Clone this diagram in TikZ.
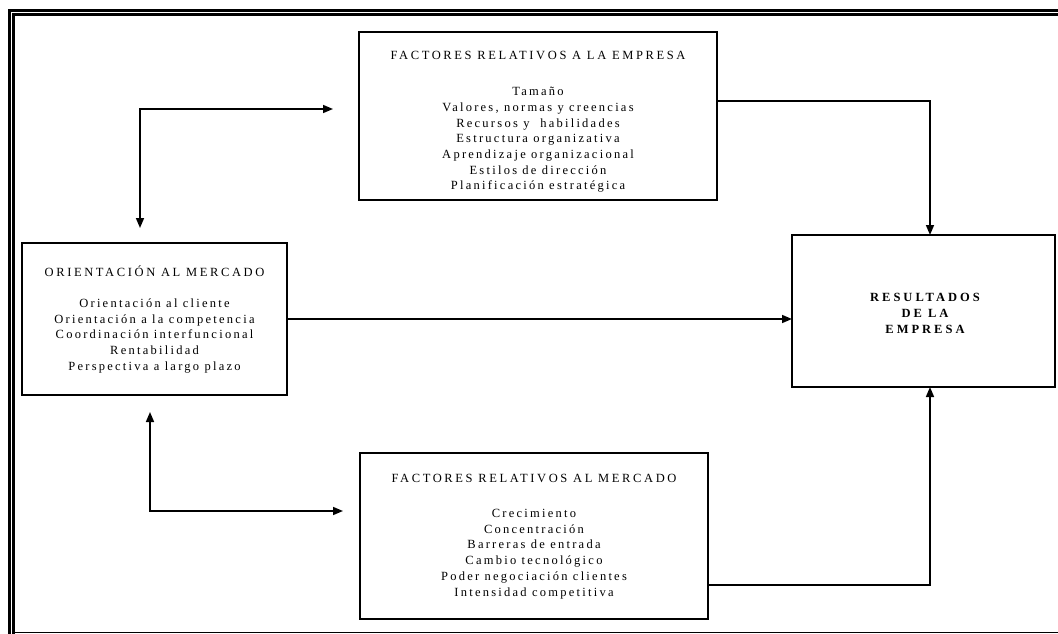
\documentclass[tikz,border=0pt]{standalone}
\usepackage{fontspec}
\setmainfont{Liberation Serif}
\newfontfamily\headfont[LetterSpace=21]{Liberation Serif}
\newfontfamily\itemfont[LetterSpace=18]{Liberation Serif}
\newfontfamily\resfont[LetterSpace=24]{Liberation Serif}
\usetikzlibrary{arrows.meta}

\begin{document}
\begin{tikzpicture}[x=1pt,y=-1pt,
  box/.style={draw, line width=1.6pt, inner sep=0pt, outer sep=0pt},
  head/.style={font=\headfont\fontsize{12.5}{15.7}\selectfont, inner sep=0pt},
  items/.style={font=\itemfont\fontsize{12.5}{15.7}\selectfont, align=center, inner sep=0pt},
  result/.style={font=\resfont\bfseries\fontsize{12.5}{16}\selectfont, align=center, inner sep=0pt},
  tip/.tip={Triangle[length=10pt,width=8pt]},
  conn/.style={line width=1.6pt, -tip},
  biconn/.style={line width=1.6pt, tip-tip},
  frameline/.style={line width=3pt, line join=miter},
]
% page and background
\fill[white] (0,0) rectangle (1058,634);
\useasboundingbox (0,0) rectangle (1058,634);

% double page frame (left and top), thin base line
\draw[frameline] (9.5,634) -- (9.5,10.5) -- (1058,10.5);
\draw[frameline] (13.5,634) -- (13.5,14.5) -- (1058,14.5);
\draw[line width=1pt] (15,632.8) -- (1058,632.8);

% boxes
\node[box, minimum width=358pt, minimum height=168pt] (empresa) at (538,116) {};
\node[box, minimum width=265pt, minimum height=152pt] (orient) at (154.5,319) {};
\node[box, minimum width=263pt, minimum height=152pt] (result) at (923.5,311) {};
\node[box, minimum width=348pt, minimum height=166pt] (mercado) at (534,536) {};

% texts
\node[head] (empresaT) at (538,55) {FACTORES RELATIVOS A LA EMPRESA};
\node[items] (empresaL) at (538,140) {Tamaño\\Valores, normas y creencias\\Recursos y\ \ habilidades\\Estructura organizativa\\Aprendizaje organizacional\\Estilos de dirección\\Planificación estratégica};

\node[head] (orientT) at (154.5,271) {ORIENTACIÓN AL MERCADO};
\node[items] (orientL) at (154.5,336) {Orientación al cliente\\Orientación a la competencia\\Coordinación interfuncional\\Rentabilidad\\Perspectiva a largo plazo};

\node[result] (resultT) at (925,313) {RESULTADOS\\DE LA\\EMPRESA};

\node[head] (mercadoT) at (534,478) {FACTORES RELATIVOS AL MERCADO};
\node[items] (mercadoL) at (534,554) {Crecimiento\\Concentración\\Barreras de entrada\\Cambio tecnológico\\Poder negociación clientes\\Intensidad competitiva};

% free ends of the two-headed connectors
\coordinate (ua) at (140,228);
\coordinate (ub) at (333,109);
\coordinate (da) at (150,412);
\coordinate (db) at (343,511);

% connectors
\draw[conn] ([yshift=15pt]empresa.east) -| ([xshift=6.5pt]result.north);
\draw[conn] ([yshift=-49pt]mercado.east) -| ([xshift=6.5pt]result.south);
\draw[conn] (orient.east) -- (orient.east -| result.west);
\draw[biconn] (ua) |- (ub);
\draw[biconn] (da) |- (db);
\end{tikzpicture}
\end{document}
